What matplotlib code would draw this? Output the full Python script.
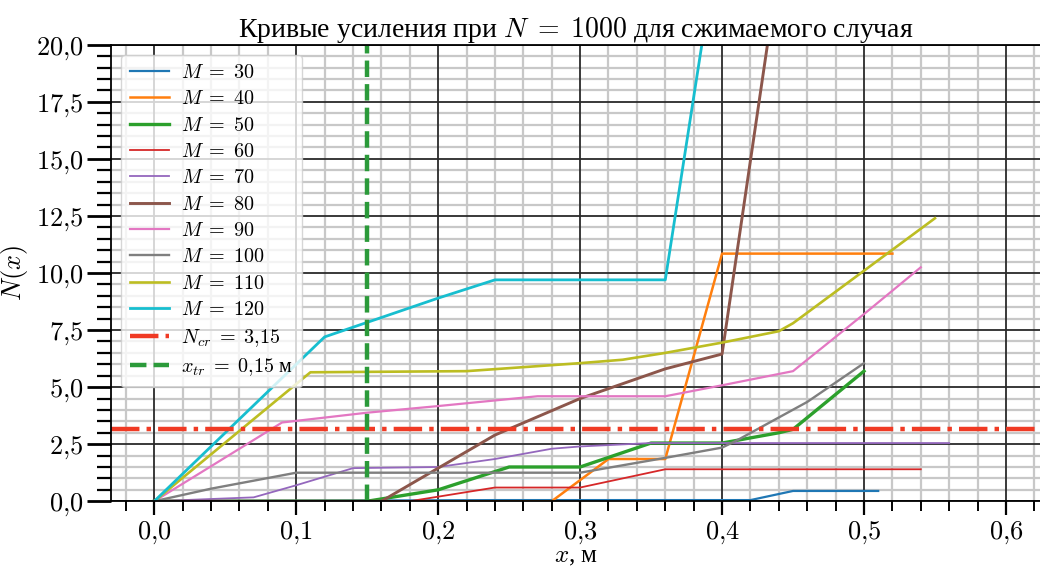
import matplotlib
matplotlib.use("Agg")
import matplotlib.pyplot as plt
from matplotlib.ticker import MultipleLocator, FuncFormatter

plt.rcParams['font.family'] = ['Liberation Serif', 'DejaVu Serif']
plt.rcParams['mathtext.fontset'] = 'cm'
plt.rcParams['axes.unicode_minus'] = False

# curves N(x) for each M
m_values = [30, 40, 50, 60, 70, 80, 90, 100, 110, 120]

x_m30 = [0, 0.24, 0.42, 0.45, 0.51]
n_m30 = [0, 0.05, 0.05, 0.45, 0.45]

x_m40 = [0, 0.28, 0.32, 0.36, 0.40, 0.52]
n_m40 = [0, 0, 1.85, 1.85, 10.85, 10.85]

x_m50 = [0, 0.15, 0.2, 0.25, 0.3, 0.35, 0.4, 0.44, 0.45, 0.5]
n_m50 = [0, 0, 0.5, 1.5, 1.5, 2.55, 2.55, 3.0, 3.15, 5.7]

x_m60 = [0, 0.18, 0.2, 0.24, 0.3, 0.36, 0.54]
n_m60 = [0, 0, 0.2, 0.6, 0.6, 1.4, 1.4]

x_m70 = [0, 0.07, 0.1, 0.14, 0.2, 0.24, 0.28, 0.3, 0.35, 0.56]
n_m70 = [0, 0.17, 0.7, 1.45, 1.5, 1.85, 2.3, 2.4, 2.55, 2.55]

x_m80 = [0, 0.16, 0.2, 0.24, 0.3, 0.33, 0.36, 0.4, 0.44]
n_m80 = [0, 0, 1.45, 2.9, 4.5, 5.15, 5.8, 6.45, 23.4]

x_m90 = [0, 0.09, 0.15, 0.2, 0.27, 0.36, 0.4, 0.45, 0.5, 0.54]
n_m90 = [0, 3.45, 3.88, 4.17, 4.6, 4.6, 5.08, 5.7, 8.2, 10.25]

x_m100 = [0, 0.04, 0.1, 0.3, 0.36, 0.4, 0.41, 0.46, 0.5]
n_m100 = [0, 0.55, 1.25, 1.25, 1.9, 2.35, 2.65, 4.35, 6.05]

x_m110 = [0, 0.11, 0.22, 0.3, 0.33, 0.36, 0.4, 0.44, 0.45, 0.55]
n_m110 = [0, 5.65, 5.7, 6.05, 6.2, 6.5, 6.95, 7.45, 7.8, 12.4]

x_m120 = [0, 0.12, 0.16, 0.2, 0.24, 0.36, 0.39]
n_m120 = [0, 7.2, 8.05, 8.9, 9.7, 9.7, 21.7]

xs = [x_m30, x_m40, x_m50, x_m60, x_m70, x_m80, x_m90, x_m100, x_m110, x_m120]
ns = [n_m30, n_m40, n_m50, n_m60, n_m70, n_m80, n_m90, n_m100, n_m110, n_m120]
widths = [1.6, 1.8, 2.4, 1.3, 1.3, 2.1, 1.6, 1.7, 1.9, 2.0]

n_cr = 3.15
x_tr = 0.15

fig = plt.figure(figsize=(10.4, 5.67), dpi=100)
ax = fig.add_axes([0.107, 0.116, 0.893, 0.805])

for m, x, n, w in zip(m_values, xs, ns, widths):
    ax.plot(x, n, lw=w, label=rf'$M\;=\;{m}$')

ax.axhline(n_cr, color='#f03a24', lw=3.2, ls='-.', label=r'$N_{cr}\;=\;3{,}15$')
ax.axvline(x_tr, color='#2b9a3a', lw=3.2, ls='--', label=r'$x_{tr}\;=\;0{,}15$ м')

ax.set_xlim(-0.0303, 0.624)
ax.set_ylim(0, 20)

ax.xaxis.set_major_locator(MultipleLocator(0.1))
ax.xaxis.set_minor_locator(MultipleLocator(0.02))
ax.yaxis.set_major_locator(MultipleLocator(2.5))
ax.yaxis.set_minor_locator(MultipleLocator(0.5))
comma = FuncFormatter(lambda v, p: '$' + f'{v:.1f}'.replace('.', '{,}') + '$')
ax.xaxis.set_major_formatter(comma)
ax.yaxis.set_major_formatter(comma)

# light minor grid from the axes, dark major grid on top of it
ax.set_axisbelow(True)
ax.grid(which='minor', color='#c8c8c8', lw=1.6)
for v in ax.xaxis.get_majorticklocs():
    ax.axvline(v, color='#2a2a2a', lw=1.3, zorder=0.9)
for v in ax.yaxis.get_majorticklocs():
    ax.axhline(v, color='#2a2a2a', lw=1.3, zorder=0.9)

ax.tick_params(axis='x', which='major', length=10, width=1.6, labelsize=19, pad=3)
ax.tick_params(axis='x', which='minor', length=7, width=1.4)
ax.tick_params(axis='y', which='major', length=17, width=2, labelsize=19, pad=3)
ax.tick_params(axis='y', which='minor', length=10, width=1.6)
for s in ['left', 'bottom', 'top']:
    ax.spines[s].set_linewidth(1.3)
ax.spines['right'].set_visible(False)

ax.set_title(r'Кривые усиления при $N\;=\;1000$ для сжимаемого случая', fontsize=20, pad=5)
ax.set_xlabel('$x$, м', fontsize=18, labelpad=0)
ax.set_ylabel('$N(x)$', fontsize=19, labelpad=4)

ax.legend(loc='upper left', fontsize=14.5, handlelength=1.9, labelspacing=0.36,
          borderpad=0.45, handletextpad=0.6, framealpha=0.8)

fig.savefig('out.png', dpi=100)
